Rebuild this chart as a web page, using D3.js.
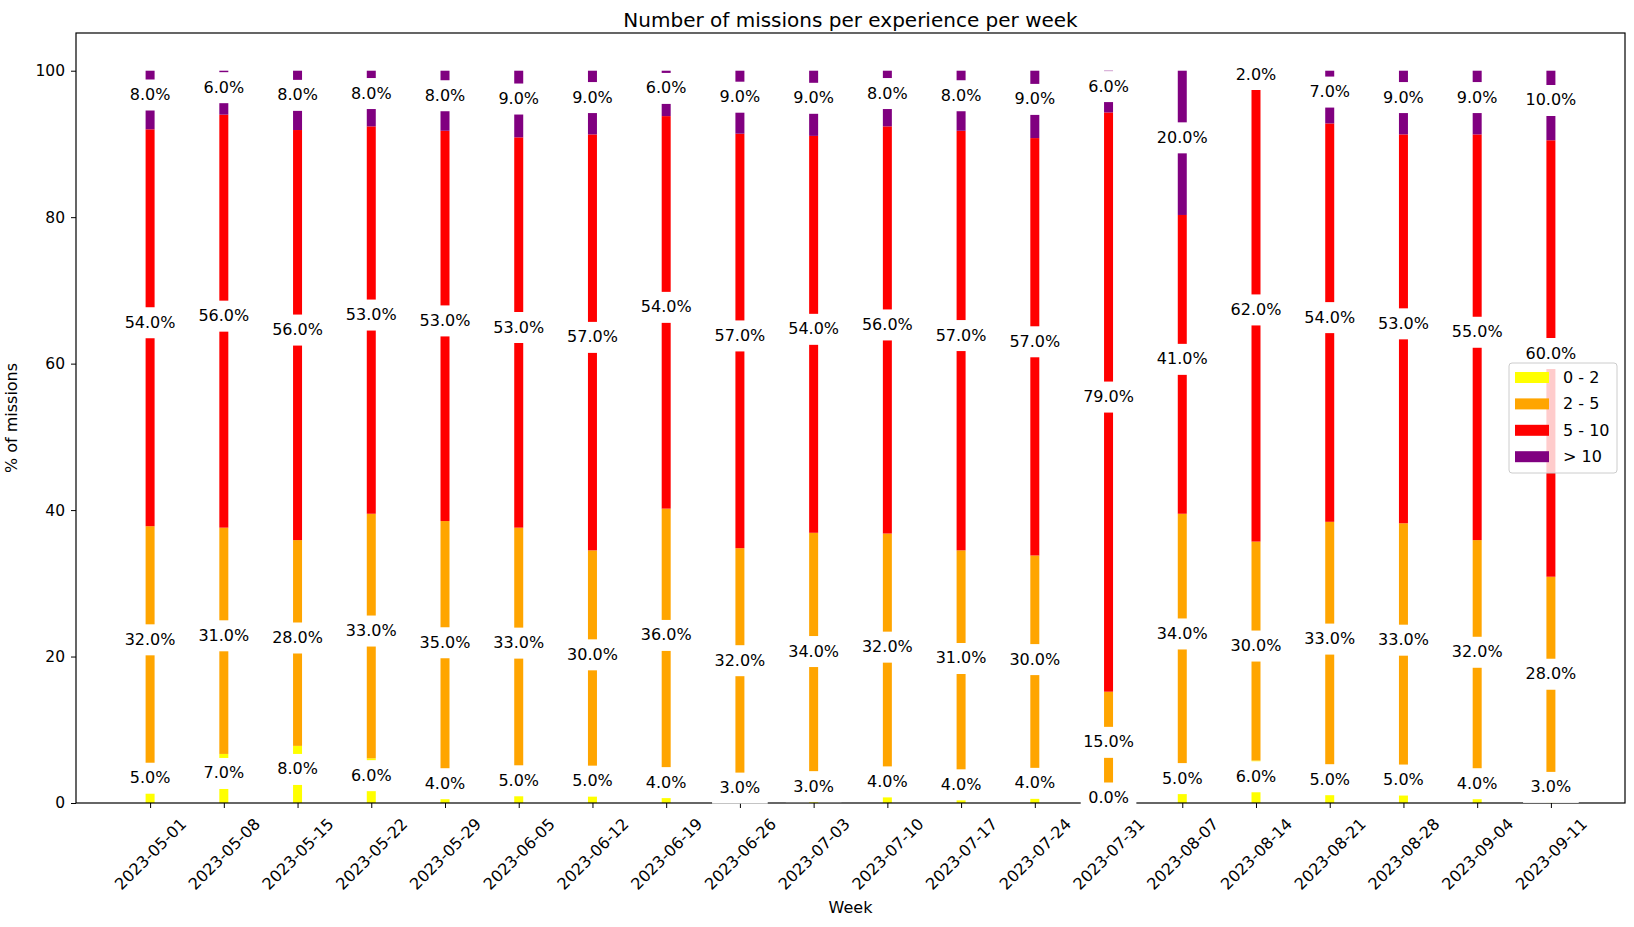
<!DOCTYPE html>
<html>
<head>
<meta charset="utf-8">
<script src="https://cdn.jsdelivr.net/npm/d3@7"></script>
<style>
  html, body { margin: 0; padding: 0; background: #fff; }
  svg { display: block; }
  svg text { font-family: "DejaVu Sans", sans-serif; }
</style>
</head>
<body>
<svg id="chart" width="1634" height="927"></svg>
<script>
const weeks = ["2023-05-01","2023-05-08","2023-05-15","2023-05-22","2023-05-29","2023-06-05","2023-06-12","2023-06-19","2023-06-26","2023-07-03","2023-07-10","2023-07-17","2023-07-24","2023-07-31","2023-08-07","2023-08-14","2023-08-21","2023-08-28","2023-09-04","2023-09-11"];
const seriesNames = ["0 - 2", "2 - 5", "5 - 10", "> 10"];
const exp0to2  = [5.4, 6.7, 7.8, 6.1, 3.9, 4.7, 4.6, 4.2, 2.7, 3.1, 4.4, 3.6, 4.0, 0.0, 5.3, 5.8, 5.0, 4.9, 3.9, 2.9];
const exp2to5  = [32.4, 30.9, 28.1, 33.4, 34.6, 32.9, 29.9, 36.0, 32.1, 33.8, 32.4, 30.9, 29.8, 15.2, 34.2, 29.9, 33.4, 33.3, 32.0, 28.0];
const exp5to10 = [54.2, 56.4, 56.0, 52.9, 53.3, 53.3, 56.8, 53.6, 56.6, 54.2, 55.6, 57.3, 57.0, 79.1, 40.8, 61.9, 54.4, 53.1, 55.4, 59.6];
const expOver10 = [8.0, 6.0, 8.1, 7.6, 8.2, 9.1, 8.7, 6.2, 8.6, 8.9, 7.6, 8.2, 9.2, 5.7, 19.7, 2.4, 7.2, 8.7, 8.7, 9.5];
const yTicks = [0, 20, 40, 60, 80, 100];
const colors = ["#ffff00", "#ffa500", "#ff0000", "#800080"];

const FONT = "DejaVu Sans";
const svg = d3.select("#chart");
const L = 76, R = 1625, T = 33, B = 803;

const x = d3.scaleLinear().domain([-1.005, 20.005]).range([L, R]);
const y = d3.scaleLinear().domain([0, 105.15]).range([B, T]);
const barW = 0.122;

const table = weeks.map((w, i) => ({week: w, i, s0: exp0to2[i], s1: exp2to5[i], s2: exp5to10[i], s3: expOver10[i]}));
const stack = d3.stack().keys(["s0","s1","s2","s3"])(table);

// bars
const gBars = svg.append("g");
stack.forEach((layer, k) => {
  gBars.selectAll(null).data(layer).enter().append("rect")
    .attr("x", d => x(d.data.i - barW/2))
    .attr("width", x(barW) - x(0))
    .attr("y", d => y(d[1]))
    .attr("height", d => y(d[0]) - y(d[1]))
    .attr("fill", colors[k]);
});

// axes
const xAxis = d3.axisBottom(x).tickValues(d3.range(weeks.length)).tickFormat(i => weeks[i]).tickSize(5).tickPadding(4);
const gx = svg.append("g").attr("transform", `translate(0,${B})`).call(xAxis)
  .attr("font-family", FONT).attr("font-size", 16);
gx.select(".domain").remove();
gx.selectAll("line").attr("stroke", "#000").attr("stroke-width", 1);
gx.selectAll("text").remove();
gx.selectAll(".tick").append("text")
  .attr("fill", "#000")
  .attr("font-family", FONT)
  .attr("font-size", 16)
  .attr("text-anchor", "middle")
  .attr("dominant-baseline", "central")
  .attr("transform", "translate(0,51) rotate(-45)")
  .text(i => weeks[i]);

const yAxis = d3.axisLeft(y).tickValues(yTicks).tickSize(5).tickPadding(6);
const gy = svg.append("g").attr("transform", `translate(${L},0)`).call(yAxis)
  .attr("font-family", FONT).attr("font-size", 15.5);
gy.select(".domain").remove();
gy.selectAll("line").attr("stroke", "#000");
gy.selectAll("text").attr("font-size", 15.5).attr("fill", "#000").attr("font-family", FONT);

// spines
svg.append("rect").attr("x", L).attr("y", T).attr("width", R - L).attr("height", B - T)
  .attr("fill", "none").attr("stroke", "#000").attr("stroke-width", 1.2);

// value labels
const gLab = svg.append("g");
stack.forEach((layer, k) => {
  layer.forEach(d => {
    const v = d[1] - d[0];
    const cx = x(d.data.i);
    const by = y((d[0] + d[1]) / 2);
    const g = gLab.append("g");
    const rect = g.append("rect").attr("fill", "#fff");
    const t = g.append("text")
      .attr("x", cx).attr("y", by)
      .attr("text-anchor", "middle")
      .attr("font-family", FONT)
      .attr("font-size", 16)
      .attr("fill", "#000")
      .text(Math.round(v).toFixed(1) + "%");
    const w = t.node().getComputedTextLength();
    rect.attr("x", cx - w/2 - 7.5).attr("width", w + 15)
      .attr("y", by - 20.5).attr("height", 31);
  });
});

// title and axis labels
svg.append("text").attr("x", (L + R) / 2).attr("y", 26.5).attr("text-anchor", "middle")
  .attr("font-family", FONT).attr("font-size", 20).attr("fill", "#000").text("Number of missions per experience per week");
svg.append("text").attr("x", (L + R) / 2).attr("y", 913).attr("text-anchor", "middle")
  .attr("font-family", FONT).attr("font-size", 16).attr("fill", "#000").text("Week");
svg.append("text").attr("transform", `translate(17,${(T + B) / 2}) rotate(-90)`).attr("text-anchor", "middle")
  .attr("font-family", FONT).attr("font-size", 16).attr("fill", "#000").text("% of missions");

// legend
const lg = svg.append("g").attr("transform", "translate(1509,363)");
lg.append("rect").attr("width", 108).attr("height", 110).attr("rx", 3)
  .attr("fill", "#fff").attr("fill-opacity", 0.8).attr("stroke", "#cccccc");
seriesNames.forEach((n, k) => {
  const cy = 14.5 + k * 26.4;
  lg.append("rect").attr("x", 6).attr("y", cy - 5.5).attr("width", 34).attr("height", 11).attr("fill", colors[k]);
  lg.append("text").attr("x", 54).attr("y", cy).attr("dominant-baseline", "central")
    .attr("font-family", FONT).attr("font-size", 16).attr("fill", "#000").text(n);
});
</script>
</body>
</html>
